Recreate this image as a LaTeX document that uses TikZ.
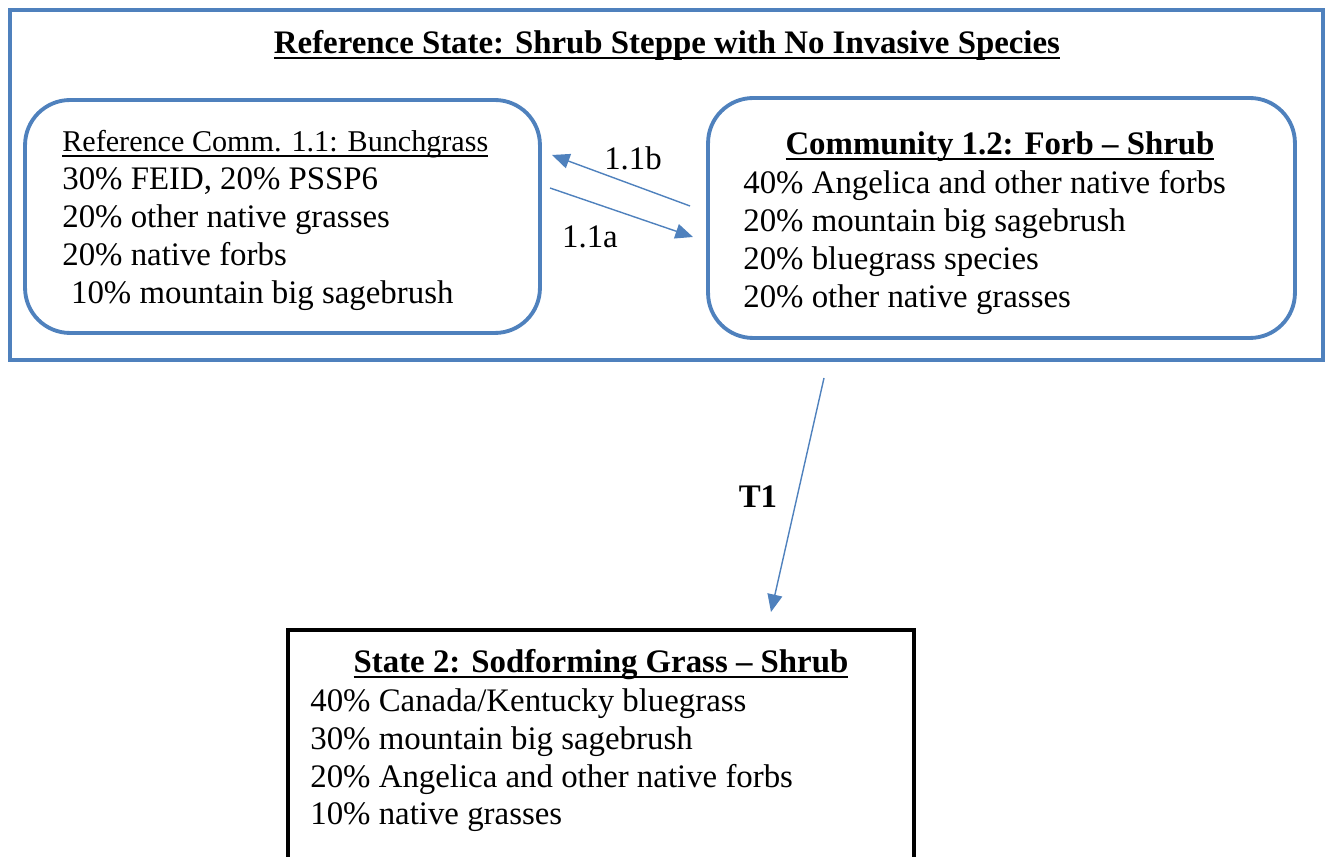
\documentclass[tikz,border=0pt]{standalone}
\usepackage{fontspec}
\setmainfont{Liberation Serif}
\usetikzlibrary{arrows.meta}
\definecolor{stateblue}{RGB}{79,129,189}

% Underline set close under the baseline, crossing the descenders.
\newcommand{\stateul}[1]{%
    \setbox0\hbox{#1}\rlap{\rule[-2.6pt]{\wd0}{0.8pt}}\box0}

\begin{document}
\begin{tikzpicture}[%
        x = 0.02cm, y = -0.02cm,
        every node/.style = {font = \fontsize{18.7}{21.6}\selectfont},
        statebox/.style = {%
            draw = stateblue, line width = 2pt, inner sep = 0pt
        },
        commbox/.style = {%
            draw = stateblue, line width = 2.2pt, inner sep = 0pt,
            rounded corners = 0.9cm
        },
        newstate/.style = {%
            draw = black, line width = 2.4pt, inner sep = 0pt
        },
        listing/.style = {align = left, inner sep = 0pt, anchor = north west},
        heading/.style = {inner sep = 0pt, anchor = base},
        -t-/.style = {%
            draw = stateblue, line width = 0.8pt,
            -{Triangle[length = 10pt, width = 8.5pt]}
        }
    ]

        % The page itself.
        \clip (0,0) rectangle (1326,857);

        % The boxes for the states and communities.
        \node (refstate) [statebox, minimum width = 26.26cm, minimum height = 7.0cm] at (666.5,185) {};
        \node (comm11) [commbox, minimum width = 10.3cm, minimum height = 4.66cm] at (282.5,216.5) {};
        \node (comm12) [commbox, minimum width = 11.74cm, minimum height = 4.8cm] at (1001.5,218) {};
        \node (state2) [newstate, minimum width = 12.52cm, minimum height = 5.6cm] at (601,770) {};

        % The headings.
        \node (refhead) [heading] at (667,54) {\textbf{\stateul{Reference State: Shrub Steppe with No Invasive Species}}};
        \node (c11head) [heading, anchor = base west, font = \fontsize{17.15}{21.6}\selectfont] at (62,152) {\stateul{Reference Comm. 1.1: Bunchgrass}};
        \node (c12head) [heading] at (1000,155) {\textbf{\stateul{Community 1.2: Forb -- Shrub}}};
        \node (s2head) [heading] at (601,673) {\textbf{\stateul{State 2: Sodforming Grass -- Shrub}}};

        % The species lists.
        \node (c11list) [listing] at (62,167) {%
            30\% FEID, 20\% PSSP6\\
            20\% other native grasses\\
            20\% native forbs\\
            \hspace*{5pt}10\% mountain big sagebrush};
        \node (c12list) [listing] at (743,170) {%
            40\% Angelica and other native forbs\\
            20\% mountain big sagebrush\\
            20\% bluegrass species\\
            20\% other native grasses};
        \node (s2list) [listing] at (310,688) {%
            40\% Canada/Kentucky bluegrass\\
            30\% mountain big sagebrush\\
            20\% Angelica and other native forbs\\
            10\% native grasses};

        % The loose ends of the pathways.
        \coordinate (c12out) at (690,206);
        \coordinate (c11in) at (552,155);
        \coordinate (c11out) at (550,188);
        \coordinate (c12in) at (693,237);
        \coordinate (refout) at (824,378);
        \coordinate (s2in) at (771,612);

        % Arrows for the pathways and the transition.
        \draw[-t-] (c12out) to (c11in);
        \draw[-t-] (c11out) to (c12in);
        \draw[-t-] (refout) to (s2in);

        % Label the arrows.
        \node (lab11b) at (633,158) {1.1b};
        \node (lab11a) at (590,237) {1.1a};
        \node (labt1) at (758,497) {\textbf{T1}};
    \end{tikzpicture}
\end{document}
